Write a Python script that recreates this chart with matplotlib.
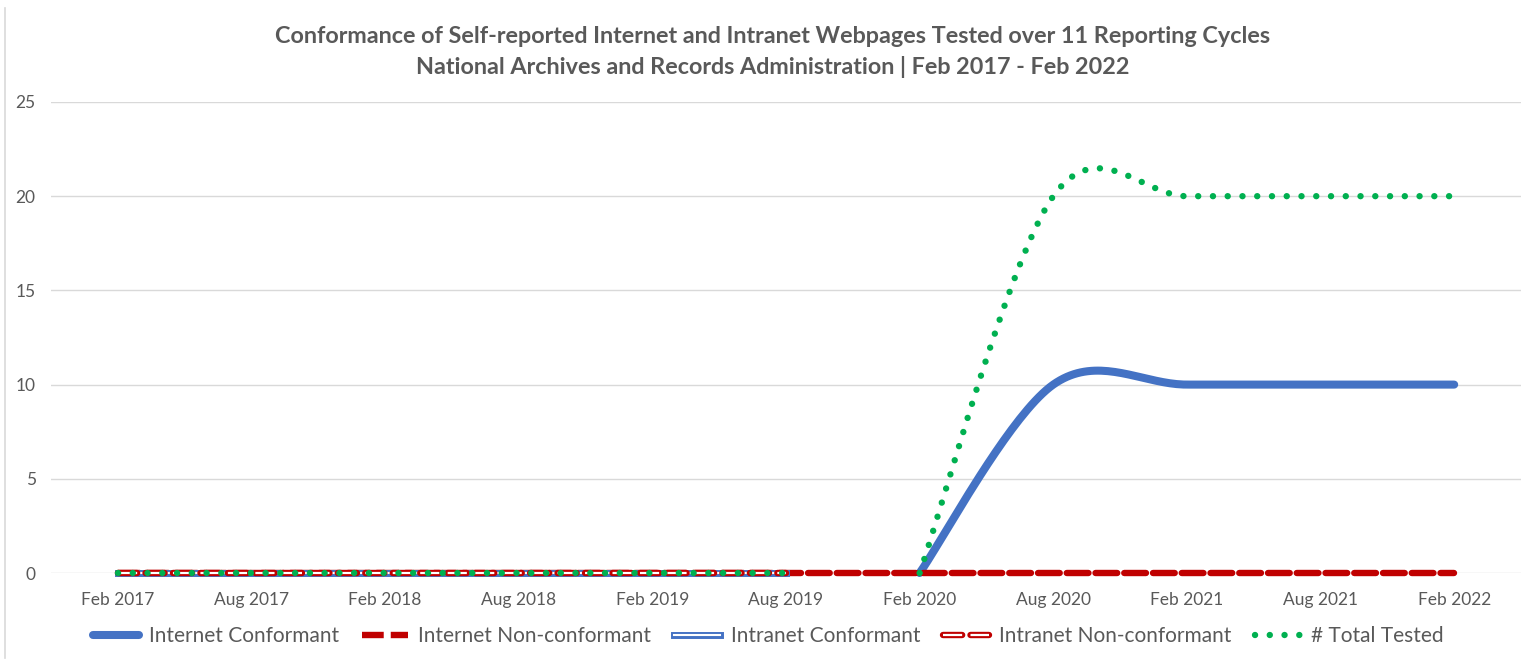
import numpy as np
import matplotlib.pyplot as plt
import matplotlib.patheffects as pe
from matplotlib.lines import Line2D
from matplotlib.legend_handler import HandlerTuple

plt.rcParams['font.family'] = ['Lato', 'DejaVu Sans']

cycles = ["Feb 2017", "Aug 2017", "Feb 2018", "Aug 2018", "Feb 2019", "Aug 2019",
          "Feb 2020", "Aug 2020", "Feb 2021", "Aug 2021", "Feb 2022"]
nan = np.nan
internet_conf = [nan, nan, nan, nan, nan, nan, 0, 10, 10, 10, 10]
internet_nonconf = [0, 0, 0, 0, 0, 0, 0, 0, 0, 0, 0]
intranet_conf = [0, 0, 0, 0, 0, 0, nan, nan, nan, nan, nan]
intranet_nonconf = [0, 0, 0, 0, 0, 0, nan, nan, nan, nan, nan]
total_intranet = [0, 0, 0, 0, 0, 0, nan, nan, nan, nan, nan]
total_internet = [nan, nan, nan, nan, nan, nan, 0, 20, 20, 20, 20]

BLUE = "#4472C4"
RED = "#C00000"
GREEN = "#00B050"
GRAY = "#595959"


def smooth(values, n=40):
    # Excel-style smoothed line: cubic Bezier with Catmull-Rom control points,
    # run separately on each unbroken stretch of values
    y = np.asarray(values, dtype=float)
    xs_out, ys_out = [], []
    idx = np.where(~np.isnan(y))[0]
    runs = np.split(idx, np.where(np.diff(idx) > 1)[0] + 1)
    for run in runs:
        px = run.astype(float)
        py = y[run]
        sx, sy = [px[0]], [py[0]]
        for i in range(len(run) - 1):
            a = max(i - 1, 0)
            d = min(i + 2, len(run) - 1)
            c1 = (px[i] + (px[i + 1] - px[a]) / 6, py[i] + (py[i + 1] - py[a]) / 6)
            c2 = (px[i + 1] - (px[d] - px[i]) / 6, py[i + 1] - (py[d] - py[i]) / 6)
            t = np.linspace(0, 1, n)[1:]
            b0, b1, b2, b3 = (1 - t) ** 3, 3 * (1 - t) ** 2 * t, 3 * (1 - t) * t ** 2, t ** 3
            sx.extend(b0 * px[i] + b1 * c1[0] + b2 * c2[0] + b3 * px[i + 1])
            sy.extend(b0 * py[i] + b1 * c1[1] + b2 * c2[1] + b3 * py[i + 1])
        xs_out.append(np.array(sx))
        ys_out.append(np.array(sy))
    return list(zip(xs_out, ys_out))


fig = plt.figure(figsize=(15.21, 6.6), dpi=100)
ax = fig.add_axes([0.0335, 0.1318, 0.9665, 0.7137])

blue_kw = dict(color=BLUE, lw=5.8, solid_capstyle="round", zorder=3, clip_on=False)
red_kw = dict(color=RED, lw=4.6, dashes=(3.4, 1.1), dash_capstyle="round", zorder=4, clip_on=False)
double_blue = [pe.Stroke(linewidth=5.0, foreground=BLUE), pe.Normal()]
redo_kw = dict(color=RED, lw=4.6, dashes=(3.0, 1.3), dash_capstyle="round")
redi_kw = dict(color="white", lw=1.6, dashes=(3.0 * 4.6 / 1.6, 1.3 * 4.6 / 1.6))
green_kw = dict(color=GREEN, lw=4.6, dashes=(0.01, 2.3), dash_capstyle="round", zorder=6, clip_on=False)

for sx, sy in smooth(internet_conf):
    ax.plot(sx, sy, **blue_kw)
for sx, sy in smooth(internet_nonconf):
    ax.plot(sx, sy, **red_kw)
for sx, sy in smooth(intranet_conf):
    ax.plot(sx, sy, color="white", lw=1.5, path_effects=double_blue, zorder=4, clip_on=False)
for sx, sy in smooth(intranet_nonconf):
    ax.plot(sx, sy, zorder=5, clip_on=False, **redo_kw)
    ax.plot(sx, sy, zorder=5, clip_on=False, **redi_kw)
for series in (total_intranet, total_internet):
    for sx, sy in smooth(series):
        ax.plot(sx, sy, **green_kw)

ax.set_xlim(-0.5, len(cycles) - 0.5)
ax.set_ylim(0, 25)
ax.set_xticks(range(len(cycles)))
ax.set_xticklabels(cycles)
ax.set_yticks(range(0, 26, 5))
ax.tick_params(axis="both", length=0, labelsize=12.5, colors=GRAY)
ax.tick_params(axis="x", pad=14)
ax.tick_params(axis="y", pad=11)
ax.grid(axis="y", color="#D9D9D9", lw=1)
ax.set_axisbelow(True)
for s in ax.spines.values():
    s.set_visible(False)

fig.text(0.508, 0.944, "Conformance of Self-reported Internet and Intranet Webpages Tested over 11 Reporting Cycles",
         ha="center", va="center", fontsize=16.8, fontweight="bold", color=GRAY)
fig.text(0.508, 0.898, "National Archives and Records Administration | Feb 2017 - Feb 2022",
         ha="center", va="center", fontsize=16.8, fontweight="bold", color=GRAY)

handles = [
    Line2D([], [], color=BLUE, lw=5.8, solid_capstyle="round"),
    Line2D([], [], color=RED, lw=4.6, dashes=(3.4, 1.1)),
    Line2D([], [], color="white", lw=1.5, path_effects=double_blue),
    (Line2D([], [], **redo_kw), Line2D([], [], **redi_kw)),
    Line2D([], [], color=GREEN, lw=4.6, dashes=(0.01, 2.3), dash_capstyle="round"),
]
labels = ["Internet Conformant", "Internet Non-conformant", "Intranet Conformant",
          "Intranet Non-conformant", "# Total Tested"]
fig.legend(handles, labels, loc="center", bbox_to_anchor=(0.505, 0.036), ncol=5,
           frameon=False, fontsize=15, handlelength=2.2, columnspacing=1.1,
           handletextpad=0.5, labelcolor=GRAY,
           handler_map={tuple: HandlerTuple(ndivide=1, pad=0)})

fig.add_artist(Line2D([0.0035, 0.0035], [0.003, 0.988], color="#D9D9D9", lw=1.2,
                      transform=fig.transFigure))

fig.savefig("out.png", dpi=100, facecolor="white")
